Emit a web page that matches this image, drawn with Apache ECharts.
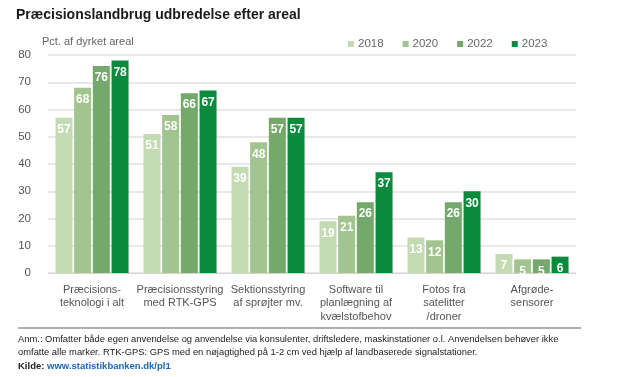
<!DOCTYPE html>
<html>
<head>
<meta charset="utf-8">
<script src="https://cdn.jsdelivr.net/npm/echarts@6/dist/echarts.min.js"></script>
<style>
  html, body { margin: 0; padding: 0; background: #fff; }
  #chart { width: 640px; height: 377px; }
</style>
</head>
<body>
<div id="chart"></div>
<script>
const categories = [
  'Præcisions-\nteknologi i alt',
  'Præcisionsstyring\nmed RTK-GPS',
  'Sektionsstyring\naf sprøjter mv.',
  'Software til\nplanlægning af\nkvælstofbehov',
  'Fotos fra\nsatelitter\n/droner',
  'Afgrøde-\nsensorer',
];
const years = ['2018', '2020', '2022', '2023'];
const values2018 = [57, 51, 39, 19, 13, 7];
const values2020 = [68, 58, 48, 21, 12, 5];
const values2022 = [76, 66, 57, 26, 26, 5];
const values2023 = [78, 67, 57, 37, 30, 6];
const colors = ['#c4dab3', '#a2c48f', '#74a96b', '#0a8a3d'];

const font = '"Liberation Sans", Arial, sans-serif';

const chart = echarts.init(document.getElementById('chart'));

const series = [values2018, values2020, values2022, values2023].map((data, i) => ({
  name: years[i],
  type: 'bar',
  data,
  barWidth: 17,
  barGap: '10%',
  itemStyle: { color: colors[i] },
  label: {
    show: true,
    position: 'insideTop',
    distance: 6,
    color: '#fff',
    fontWeight: 'bold',
    fontSize: 12,
    fontFamily: font,
  },
}));

chart.setOption({
  animation: false,
  color: colors,
  grid: { left: 48, right: 64, top: 55, bottom: 104 },
  legend: {
    data: years,
    left: 343,
    top: 33,
    icon: 'rect',
    itemWidth: 6,
    itemHeight: 6,
    itemGap: 19,
    textStyle: { color: '#666', fontSize: 11.5, fontFamily: font, padding: [0, 0, 0, -1] },
  },
  xAxis: {
    type: 'category',
    data: categories,
    axisTick: { show: false },
    axisLine: { lineStyle: { color: '#d4d4d4', width: 1 } },
    axisLabel: {
      color: '#555',
      fontSize: 11,
      fontFamily: font,
      lineHeight: 13.5,
      margin: 10,
      interval: 0,
    },
  },
  yAxis: {
    type: 'value',
    min: 0,
    max: 80,
    interval: 10,
    axisLabel: { color: '#555', fontSize: 11.5, fontFamily: font, margin: 17 },
    splitLine: { lineStyle: { color: '#e0e0e0', width: 1.5 } },
  },
  graphic: [
    {
      type: 'text', left: 16, top: 8,
      style: { text: 'Præcisionslandbrug udbredelse efter areal', fill: '#1a1a1a',
        font: 'bold 14px "Liberation Sans", Arial, sans-serif' },
    },
    {
      type: 'text', left: 42, top: 36,
      style: { text: 'Pct. af dyrket areal', fill: '#666', font: '11px ' + font },
    },
    {
      type: 'rect', shape: { x: 18, y: 327, width: 563, height: 2 },
      style: { fill: '#a9b1b8' },
    },
    {
      type: 'text', left: 18, top: 333,
      style: {
        text: 'Anm.: Omfatter både egen anvendelse og anvendelse via konsulenter, driftsledere, maskinstationer o.l. Anvendelsen behøver ikke\nomfatte alle marker. RTK-GPS: GPS med en nøjagtighed på 1-2 cm ved hjælp af landbaserede signalstationer.',
        fill: '#222', font: '9.4px "Liberation Sans", Arial, sans-serif', lineHeight: 13,
      },
    },
    {
      type: 'text', left: 18, top: 361,
      style: {
        text: '{k|Kilde: }{u|www.statistikbanken.dk/pl1}',
        rich: {
          k: { fill: '#222', font: 'bold 9.5px "Liberation Sans", Arial, sans-serif' },
          u: { fill: '#1f66b3', font: 'bold 9.5px "Liberation Sans", Arial, sans-serif' },
        },
      },
    },
  ],
  series,
});
</script>
</body>
</html>
